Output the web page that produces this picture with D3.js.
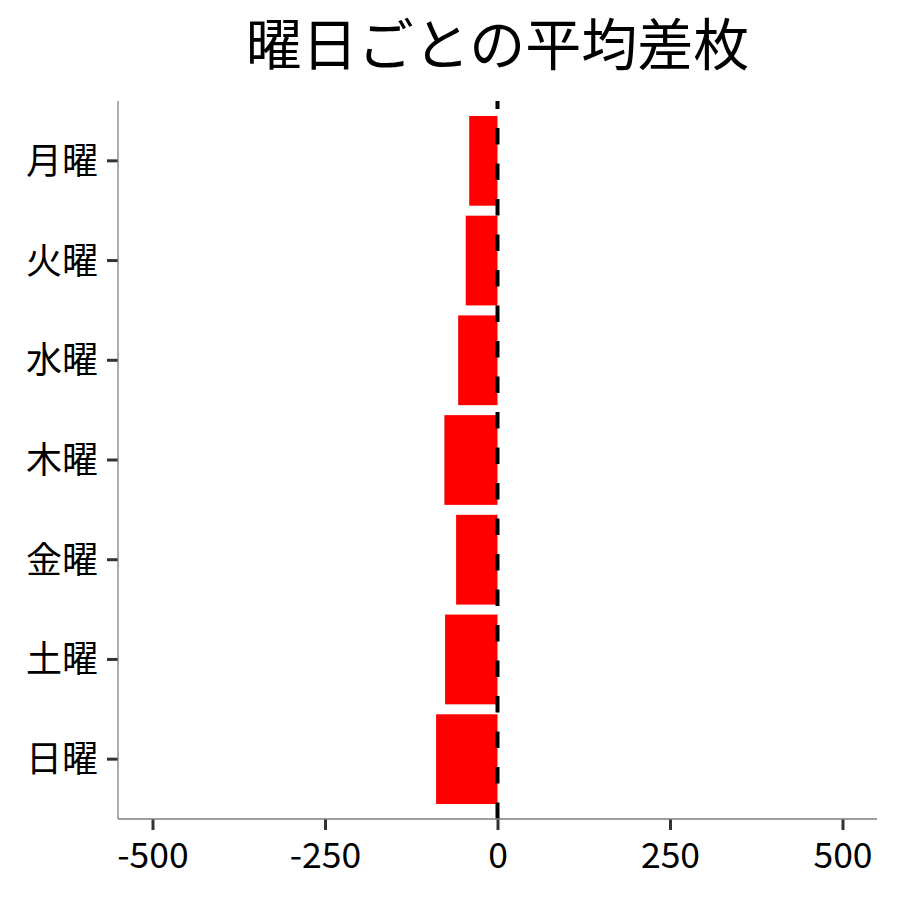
<!DOCTYPE html>
<html>
<head>
<meta charset="utf-8">
<script src="https://cdn.jsdelivr.net/npm/d3@7"></script>
<style>
  body { margin: 0; background: #fff; }
  svg text { font-family: "Noto Sans CJK JP", "Noto Sans", sans-serif; fill: #000; }
</style>
</head>
<body>
<script>
// data
var days = ["月曜", "火曜", "水曜", "木曜", "金曜", "土曜", "日曜"];
var avgDiff = [-41, -46, -57, -77, -60, -76, -89];
var xTicks = [-500, -250, 0, 250, 500];
var title = "曜日ごとの平均差枚";

var data = days.map(function(d, i) { return {day: d, value: avgDiff[i]}; });

var W = 900, H = 900;
var panel = {left: 118, right: 877, top: 101, bottom: 819};

var svg = d3.select("body").append("svg")
    .attr("width", W)
    .attr("height", H);

// scales
var xScale = d3.scaleLinear().domain([-550, 550]).range([panel.left, panel.right]);
var yScale = d3.scaleBand().domain(days)
    .range([panel.top, panel.bottom])
    .paddingInner(0.1)
    .paddingOuter(0.15);

// bars
svg.selectAll(".bar")
  .data(data)
  .enter().append("rect")
    .attr("class", "bar")
    .attr("x", function(d) { return xScale(Math.min(0, d.value)); })
    .attr("width", function(d) { return Math.abs(xScale(d.value) - xScale(0)); })
    .attr("y", function(d) { return yScale(d.day); })
    .attr("height", yScale.bandwidth())
    .attr("fill", "#FF0000");

// zero line, dashed (drawn bottom to top like ggplot)
svg.append("line")
    .attr("x1", xScale(0)).attr("x2", xScale(0))
    .attr("y1", panel.bottom).attr("y2", panel.top)
    .attr("stroke", "#000")
    .attr("stroke-width", 4)
    .attr("stroke-dasharray", "16.5,19");

// x axis
var xAxis = d3.axisBottom(xScale).tickValues(xTicks).tickSize(11).tickPadding(4)
    .tickFormat(function(d) { return d; });
var gx = svg.append("g")
    .attr("transform", "translate(0," + panel.bottom + ")")
    .call(xAxis);
gx.select(".domain").remove();
gx.selectAll(".tick line").style("stroke", "#333").style("stroke-width", "3px");
gx.selectAll(".tick text").remove();
gx.selectAll(".tick").append("text")
    .attr("y", 49)
    .attr("text-anchor", "middle")
    .style("font-size", "35.5px")
    .text(function(d) { return d; });

// y axis
var yAxis = d3.axisLeft(yScale).tickSize(11);
var gy = svg.append("g")
    .attr("transform", "translate(" + panel.left + ",0)")
    .call(yAxis);
gy.select(".domain").remove();
gy.selectAll(".tick line").style("stroke", "#333").style("stroke-width", "3px");
gy.selectAll(".tick text").remove();
gy.selectAll(".tick").append("text")
    .attr("x", -20)
    .attr("y", 13)
    .attr("text-anchor", "end")
    .style("font-size", "36px")
    .text(function(d) { return d; });

// axis lines
svg.append("line")
    .attr("x1", panel.left).attr("x2", panel.right)
    .attr("y1", panel.bottom).attr("y2", panel.bottom)
    .attr("stroke", "#7f7f7f").attr("stroke-width", 1.3);
svg.append("line")
    .attr("x1", panel.left).attr("x2", panel.left)
    .attr("y1", panel.top).attr("y2", panel.bottom)
    .attr("stroke", "#7f7f7f").attr("stroke-width", 1.3);

// title
svg.append("text")
    .attr("x", (panel.left + panel.right) / 2)
    .attr("y", 65)
    .attr("text-anchor", "middle")
    .style("font-size", "56px")
    .text(title);
</script>
</body>
</html>
